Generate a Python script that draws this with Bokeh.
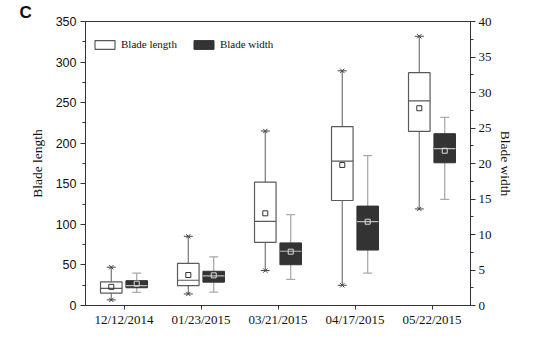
from bokeh.plotting import figure
from bokeh.models import (Range1d, LinearAxis, FixedTicker, SingleIntervalTicker,
                          Legend, LegendItem, ColumnDataSource)
from bokeh.transform import dodge
from bokeh.embed import file_html
from bokeh.resources import INLINE

dates = ["12/12/2014", "01/23/2015", "03/21/2015", "04/17/2015", "05/22/2015"]
pos = [0, 1, 2, 3, 4]

# Blade length (left axis)
len_lo = [6.9, 14.2, 43.0, 24.9, 119.0]
len_q1 = [15.3, 24.5, 77.9, 129.4, 214.6]
len_med = [21.1, 31.1, 103.7, 178.0, 252.3]
len_q3 = [29.1, 51.8, 152.0, 220.4, 286.9]
len_hi = [47.2, 85.3, 215.0, 289.2, 331.8]
len_mean = [23.0, 37.6, 113.6, 173.2, 243.1]

# Blade width (right axis)
wid_lo = [1.84, 1.88, 3.69, 4.56, 14.96]
wid_q1 = [2.5, 3.29, 5.74, 7.81, 20.1]
wid_med = [2.8, 4.16, 7.64, 11.8, 22.1]
wid_q3 = [3.5, 4.82, 8.82, 14.0, 24.2]
wid_hi = [4.56, 6.85, 12.8, 21.1, 26.5]
wid_mean = [3.07, 4.25, 7.58, 11.8, 21.8]

OFF = 0.165
BW = 0.28
SERIF = "Liberation Serif"
SANS = "Liberation Sans"

src_l = ColumnDataSource(dict(x=pos, lo=len_lo, q1=len_q1, med=len_med, q3=len_q3, hi=len_hi, mean=len_mean))
src_w = ColumnDataSource(dict(x=pos, lo=wid_lo, q1=wid_q1, med=wid_med, q3=wid_q3, hi=wid_hi, mean=wid_mean))

p = figure(width=517, height=329, output_backend="svg", toolbar_location=None,
           x_range=Range1d(-0.5, 4.5), y_range=Range1d(0, 350),
           min_border_left=85, min_border_right=47, min_border_top=19, min_border_bottom=20)
p.extra_y_ranges = {"w": Range1d(0, 40)}
p.xgrid.visible = False
p.ygrid.visible = False
p.outline_line_color = "#333333"
p.outline_line_width = 1

# panel letter as title
p.title.text = "C"
p.title.align = "left"
p.title.offset = -66
p.title.text_font = SANS
p.title.text_font_style = "bold"
p.title.text_font_size = "17px"
p.title.text_color = "#111111"
p.title.standoff = 0

# ---- Blade length (white boxes)
xl = dodge("x", -OFF, range=p.x_range)
p.segment(x0=xl, x1=xl, y0="lo", y1="hi", source=src_l, line_color="#808080", line_width=1.3)
r_len = p.vbar(x=xl, width=BW, bottom="q1", top="q3", source=src_l,
               fill_color="white", line_color="#5a5a5a", line_width=1.2)
p.segment(x0=dodge("x", -OFF - BW / 2, range=p.x_range), x1=dodge("x", -OFF + BW / 2, range=p.x_range),
          y0="med", y1="med", source=src_l, line_color="#5a5a5a", line_width=1.2)
for col in ("lo", "hi"):
    p.scatter(x=xl, y=col, source=src_l, marker="x", size=6, line_color="#444444", line_width=1)
    p.scatter(x=xl, y=col, source=src_l, marker="dash", size=9, line_color="#444444", line_width=1)
p.scatter(x=xl, y="mean", source=src_l, marker="square", size=5, fill_alpha=0,
          line_color="#333333", line_width=1)

# ---- Blade width (dark boxes, right axis)
xw = dodge("x", OFF, range=p.x_range)
p.segment(x0=xw, x1=xw, y0="lo", y1="hi", source=src_w, y_range_name="w",
          line_color="#aaaaaa", line_width=1.3)
r_wid = p.vbar(x=xw, width=BW, bottom="q1", top="q3", source=src_w, y_range_name="w",
               fill_color="#333333", line_color="#333333", line_width=1)
p.segment(x0=dodge("x", OFF - BW / 2, range=p.x_range), x1=dodge("x", OFF + BW / 2, range=p.x_range),
          y0="med", y1="med", source=src_w, y_range_name="w", line_color="#bbbbbb", line_width=1.2)
for col in ("lo", "hi"):
    p.scatter(x=xw, y=col, source=src_w, y_range_name="w", marker="dash", size=9,
              line_color="#aaaaaa", line_width=1.2)
p.scatter(x=xw, y="mean", source=src_w, y_range_name="w", marker="square", size=5, fill_alpha=0,
          line_color="#dddddd", line_width=1)

# ---- axes
ax = p.xaxis[0]
ax.ticker = FixedTicker(ticks=pos)
ax.major_label_overrides = {i: d for i, d in zip(pos, dates)}
ax.major_label_text_font = SERIF
ax.major_label_text_font_size = "13px"
ax.major_label_text_color = "#111111"
ax.major_label_standoff = 2
ax.major_tick_in = 0
ax.major_tick_out = 4
ax.minor_tick_out = 0
ax.minor_tick_in = 0
ax.axis_line_color = "#333333"
ax.major_tick_line_color = "#333333"

ay = p.yaxis[0]
ay.ticker = SingleIntervalTicker(interval=50, num_minor_ticks=2)
ay.axis_label = "Blade length"
ay.axis_label_text_font = SERIF
ay.axis_label_text_font_style = "normal"
ay.axis_label_text_font_size = "13.5px"
ay.axis_label_text_color = "#111111"
ay.axis_label_standoff = 8
ay.major_label_text_font = SANS
ay.major_label_text_font_size = "12.5px"
ay.major_label_text_color = "#111111"
ay.major_label_standoff = 4
ay.major_tick_in = 0
ay.major_tick_out = 5
ay.minor_tick_in = 0
ay.minor_tick_out = 3
ay.axis_line_color = "#333333"
ay.major_tick_line_color = "#333333"
ay.minor_tick_line_color = "#333333"

ar = LinearAxis(y_range_name="w", axis_label="Blade width")
ar.ticker = SingleIntervalTicker(interval=5, num_minor_ticks=2)
ar.axis_label_text_font = SERIF
ar.axis_label_text_font_style = "normal"
ar.axis_label_text_font_size = "13.5px"
ar.axis_label_text_color = "#111111"
ar.axis_label_standoff = 3
ar.major_label_text_font = SERIF
ar.major_label_text_font_size = "13px"
ar.major_label_text_color = "#111111"
ar.major_label_standoff = 3
ar.major_tick_in = 0
ar.major_tick_out = 5
ar.minor_tick_in = 0
ar.minor_tick_out = 3
ar.axis_line_color = "#333333"
ar.major_tick_line_color = "#333333"
ar.minor_tick_line_color = "#333333"
p.add_layout(ar, "right")

# ---- legend
legend = Legend(items=[LegendItem(label="Blade length", renderers=[r_len]),
                       LegendItem(label="Blade width", renderers=[r_wid])],
                orientation="horizontal", location=(7, 255),
                glyph_width=25, glyph_height=11, label_standoff=4, spacing=14,
                padding=0, margin=0, border_line_color=None, background_fill_alpha=0,
                label_text_font=SERIF, label_text_font_size="11px", label_text_color="#111111",
                label_height=11)
p.add_layout(legend)

open("out.html", "w").write(file_html(p, INLINE))
